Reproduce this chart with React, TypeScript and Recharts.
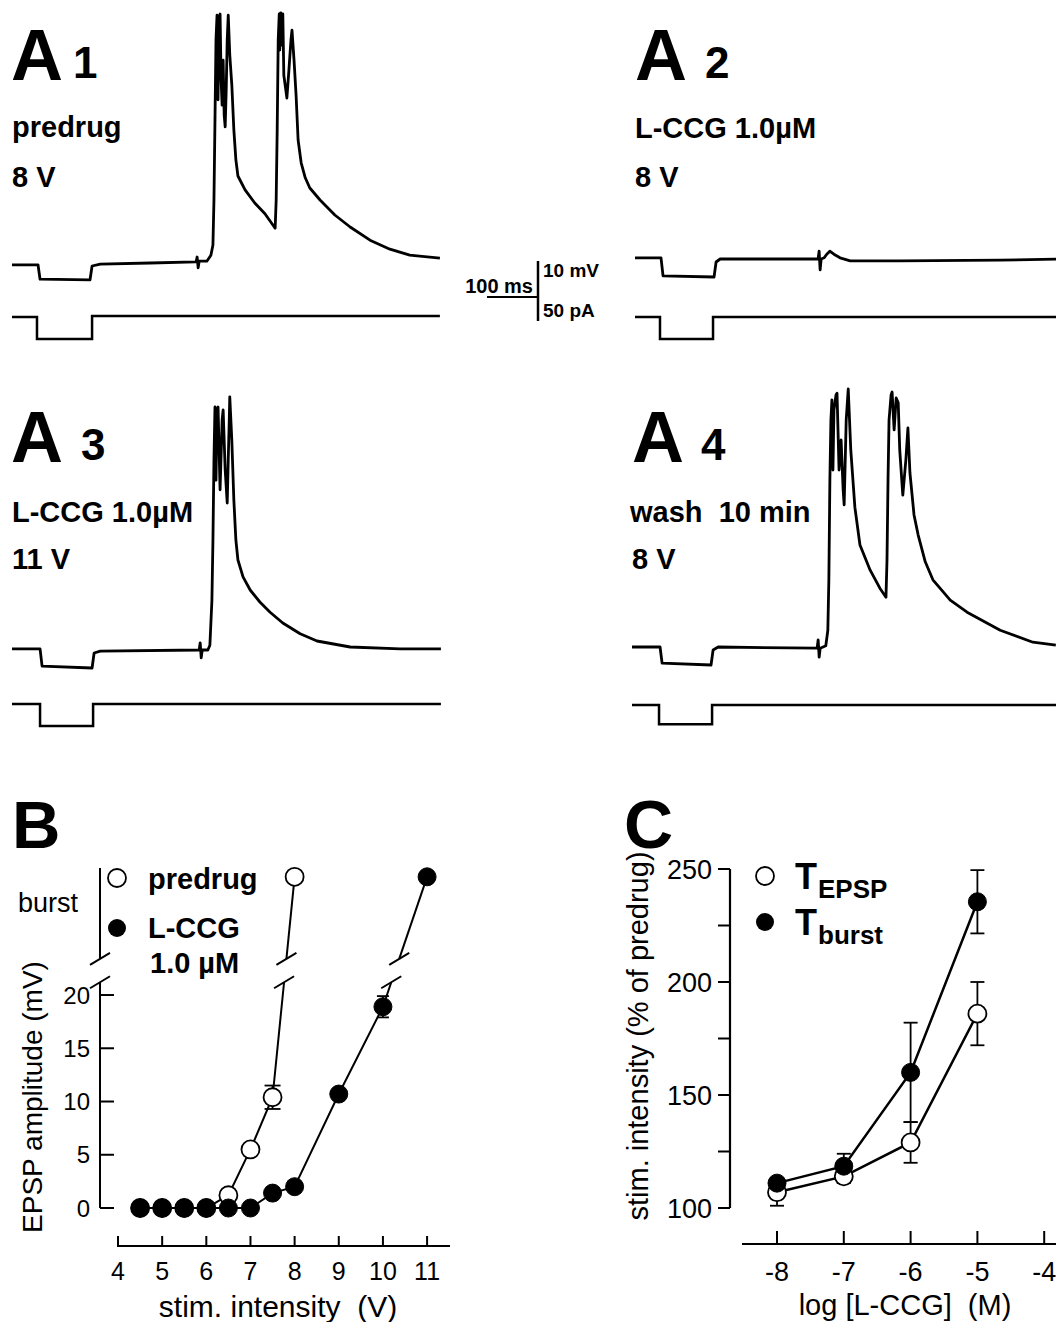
import React from 'react';
import { LineChart, Line, XAxis, YAxis, ErrorBar, ReferenceLine } from 'recharts';

const FONT = '"Liberation Sans", Arial, Helvetica, sans-serif';

// ---------- Panel A: recorded traces ----------
// [time (ms), membrane potential relative to rest (mV)]
const a1Voltage: [number, number][] = [
  [0, -0.3], [51, -0.3], [55, -2.7], [153, -2.8], [157, -0.5], [173, -0.2], [271, 0], [361, 0.2],
  [363, 1.0], [365, -0.8], [367, 0.3], [382, 0.3], [390, 1.3], [394, 3.0], [396, 10.5], [398, 23.8],
  [400, 37.2], [402, 41.3], [404, 27.2], [406, 40.8], [408, 41.5], [410, 30.5], [412, 26.3], [414, 33.8],
  [416, 24.7], [418, 22.7], [420, 28.8], [422, 37.2], [424, 41.3], [427, 34.7], [431, 29.7], [435, 22.2],
  [439, 17.2], [443, 14.5], [457, 12.2], [476, 10.0], [496, 8.2], [516, 5.8], [518, 10.5], [520, 22.2],
  [522, 37.2], [524, 41.5], [525, 35.5], [527, 41.7], [529, 36.3], [531, 41.5], [533, 31.3], [537, 28.8],
  [539, 27.5], [543, 32.2], [547, 37.2], [549, 38.8], [553, 33.8], [557, 28.0], [561, 20.5], [567, 16.7],
  [575, 14.2], [584, 12.5], [604, 10.5], [633, 8.0], [663, 6.0], [702, 3.8], [741, 2.3], [780, 1.3], [839, 0.8],
];
// [time (ms), injected current (pA)]
const a1Current: [number, number][] = [[0, 0], [49, 0], [49, -18.3], [157, -18.3], [157, 0.8], [839, 0.8]];

const a2Voltage: [number, number][] = [
  [0, 0.2], [51, 0.2], [55, -2.8], [155, -3.0], [159, -0.5], [167, 0], [359, 0], [361, 1.3], [363, -1.8],
  [365, 0], [371, 0.2], [376, 0.8], [382, 1.3], [390, 0.8], [402, 0.2], [422, -0.3], [520, -0.3], [716, -0.2], [843, 0],
];
const a2Current: [number, number][] = [[0, 0], [49, 0], [49, -18.3], [153, -18.3], [153, 0], [843, 0]];

const a3Voltage: [number, number][] = [
  [0, 0.2], [55, 0.2], [59, -2.7], [157, -3.0], [161, -0.5], [173, -0.2], [367, 0], [369, 1.2], [371, -1.3],
  [373, 0], [384, 0], [388, 0.8], [392, 8.3], [394, 18.3], [396, 31.7], [398, 40.5], [400, 28.3], [402, 40.0],
  [404, 40.5], [408, 26.7], [412, 38.3], [414, 40.0], [418, 30.0], [422, 24.5], [424, 31.7], [426, 38.3],
  [427, 42.2], [431, 35.0], [435, 25.0], [439, 18.3], [443, 15.0], [453, 12.2], [467, 10.0], [486, 8.0],
  [506, 6.3], [531, 4.5], [565, 2.7], [598, 1.5], [663, 0.5], [761, 0.2], [841, 0.2],
];
const a3Current: [number, number][] = [[0, 0], [55, 0], [55, -18.3], [159, -18.3], [159, 0], [841, 0]];

const a4Voltage: [number, number][] = [
  [0, 0], [55, 0], [59, -2.7], [155, -3.0], [159, -0.5], [169, 0], [363, -0.2], [365, 1.2], [367, -1.7],
  [369, -0.2], [380, 0.2], [384, 2.8], [386, 11.2], [388, 27.8], [390, 37.8], [392, 41.2], [394, 29.5],
  [396, 39.5], [400, 42.0], [402, 42.3], [406, 29.5], [410, 34.5], [414, 26.2], [416, 23.7], [420, 37.8],
  [424, 43.0], [429, 32.8], [437, 23.3], [447, 17.0], [467, 12.8], [486, 9.8], [498, 8.3], [500, 14.5],
  [502, 27.8], [504, 37.8], [508, 42.0], [510, 42.5], [514, 36.2], [518, 41.5], [522, 40.7], [525, 32.8],
  [531, 25.3], [537, 31.2], [541, 36.5], [545, 29.0], [553, 22.0], [561, 18.7], [575, 14.2], [590, 11.2],
  [624, 7.8], [657, 5.8], [722, 2.8], [786, 0.8], [831, 0.3],
];
const a4Current: [number, number][] = [[0, 0], [53, 0], [53, -16], [157, -16], [157, 0], [843, 0]];

// ---------- Panel B: EPSP amplitude vs stimulus intensity ----------
const predrugStim = [4.5, 5, 5.5, 6, 6.5, 7, 7.5, 8];
const predrugAmp: (number | 'burst')[] = [0, 0, 0, 0, 1.2, 5.5, 10.4, 'burst'];
const predrugErr: (number | null)[] = [null, null, null, null, null, null, 1.1, null];
const lccgStim = [4.5, 5, 5.5, 6, 6.5, 7, 7.5, 8, 9, 10, 11];
const lccgAmp: (number | 'burst')[] = [0, 0, 0, 0, 0, 0, 1.4, 2.0, 10.7, 18.9, 'burst'];
const lccgErr: (number | null)[] = [null, null, null, null, null, null, null, null, null, 1.0, null];
const bYTicks = [0, 5, 10, 15, 20];
const bXTicks = [4, 5, 6, 7, 8, 9, 10, 11];

// ---------- Panel C: threshold vs log concentration ----------
const logConc = [-8, -7, -6, -5];
const tEpsp = [107, 114, 129, 186];
const tEpspErr = [6, 3, 9, 14];
const tBurst = [111, 118.5, 160, 235.5];
const tBurstErr = [2, 5.5, 22, 14];
const cYTicks = [100, 125, 150, 175, 200, 225, 250];
const cXTicks = [-8, -7, -6, -5, -4];

// ---------- layout constants ----------
const PX_PER_MS = 0.51;
const PX_PER_MV = 6;
const PX_PER_PA = 1.2;

const BURST_LEVEL = 31.1; // axis position of the "burst" row in panel B
const BREAK_LOW = 21.2;
const BREAK_HIGH = 23.4;
const B_X = [3.592, 11.519];
const B_Y = [-3.568, 32.68];
const B_PLOT_W = 350;
const B_PLOT_H = 386;
const C_X = [-8.7036, -3.8234];
const C_Y = [84.07, 253.98];

function TracePanel(props: {
  left: number; top: number; width: number; height: number; vZero: number; iZero: number;
  voltage: [number, number][]; current: [number, number][];
}) {
  const { left, top, width, height, vZero, iZero, voltage, current } = props;
  const tMax = width / PX_PER_MS;
  const vDomain = [-(height - vZero) / PX_PER_MV, vZero / PX_PER_MV];
  const iDomain = [-(height - iZero) / PX_PER_PA, iZero / PX_PER_PA];
  const vData = voltage.map(([t, v]) => ({ t, v }));
  const iData = current.map(([t, i]) => ({ t, i }));
  return (
    <div style={{ position: 'absolute', left, top, width, height }}>
      <LineChart width={width} height={height} margin={{ top: 0, right: 0, bottom: 0, left: 0 }}>
        <XAxis type="number" dataKey="t" domain={[0, tMax]} hide allowDataOverflow />
        <YAxis yAxisId="v" type="number" domain={vDomain} hide allowDataOverflow />
        <YAxis yAxisId="i" type="number" domain={iDomain} hide allowDataOverflow />
        <Line yAxisId="v" data={vData} dataKey="v" type="linear" stroke="#000" strokeWidth={2.8}
          dot={false} isAnimationActive={false} strokeLinejoin="round" />
        <Line yAxisId="i" data={iData} dataKey="i" type="linear" stroke="#000" strokeWidth={2.5}
          dot={false} isAnimationActive={false} />
      </LineChart>
    </div>
  );
}

function toLevel(v: number | 'burst') {
  return v === 'burst' ? BURST_LEVEL : v;
}

function splitSeries(xs: number[], ys: (number | 'burst')[], errs: (number | null)[]) {
  const vals = ys.map(toLevel);
  const n = xs.length;
  const x0 = xs[n - 2], y0 = vals[n - 2], x1 = xs[n - 1], y1 = vals[n - 1];
  const xAt = (y: number) => x0 + ((y - y0) * (x1 - x0)) / (y1 - y0);
  const all = xs.map((x, i) => ({ x, y: vals[i], err: errs[i] }));
  const low = xs.slice(0, n - 1).map((x, i) => ({ x, y: vals[i] })).concat([{ x: xAt(BREAK_LOW), y: BREAK_LOW }]);
  const high = [{ x: xAt(BREAK_HIGH), y: BREAK_HIGH }, { x: x1, y: y1 }];
  return { all, low, high, bLow: { x: xAt(BREAK_LOW), y: BREAK_LOW }, bHigh: { x: xAt(BREAK_HIGH), y: BREAK_HIGH } };
}

function slash(cx: number, cy: number) {
  const pxX = B_PLOT_W / (B_X[1] - B_X[0]);
  const pxY = B_PLOT_H / (B_Y[1] - B_Y[0]);
  return [
    { x: cx - 10 / pxX, y: cy - 6 / pxY },
    { x: cx + 10 / pxX, y: cy + 6 / pxY },
  ];
}

function PanelB() {
  const pre = splitSeries(predrugStim, predrugAmp, predrugErr);
  const lccg = splitSeries(lccgStim, lccgAmp, lccgErr);
  const xAxisStart = B_X[0] + 17 / (B_PLOT_W / (B_X[1] - B_X[0]));
  const tickStyle = { fill: '#000', fontSize: 25, fontFamily: FONT };
  const lineProps = { type: 'linear' as const, stroke: '#000', strokeWidth: 2, isAnimationActive: false };
  const segs = [
    [{ x: B_X[0], y: 0 }, { x: B_X[0], y: BREAK_LOW }],
    [{ x: B_X[0], y: BREAK_HIGH }, { x: B_X[0], y: 31.93 }],
    [{ x: xAxisStart, y: B_Y[0] }, { x: B_X[1], y: B_Y[0] }],
    slash(B_X[0], BREAK_LOW), slash(B_X[0], BREAK_HIGH),
    slash(pre.bLow.x, pre.bLow.y), slash(pre.bHigh.x, pre.bHigh.y),
    slash(lccg.bLow.x, lccg.bLow.y), slash(lccg.bHigh.x, lccg.bHigh.y),
  ];
  return (
    <div style={{ position: 'absolute', left: 0, top: 780 }}>
      <LineChart width={460} height={526} margin={{ top: 80, right: 10, bottom: 0, left: 0 }}>
        <XAxis type="number" dataKey="x" domain={B_X} allowDataOverflow ticks={bXTicks} interval={0}
          axisLine={false} tickSize={-10} tickMargin={26} height={60}
          tickLine={{ stroke: '#000', strokeWidth: 2 }} tick={tickStyle} />
        <YAxis type="number" domain={B_Y} allowDataOverflow ticks={bYTicks} interval={0} width={100}
          axisLine={false} tickSize={-14} tickMargin={24}
          tickLine={{ stroke: '#000', strokeWidth: 2 }} tick={{ ...tickStyle, fontSize: 24 }} />
        {segs.map((s, k) => (
          <ReferenceLine key={k} segment={s} stroke="#000" strokeWidth={2} ifOverflow="visible" />
        ))}
        <Line data={pre.low} dataKey="y" {...lineProps} dot={false} />
        <Line data={pre.high} dataKey="y" {...lineProps} dot={false} />
        <Line data={pre.all} dataKey="y" {...lineProps} stroke="none"
          dot={{ r: 9, fill: '#fff', stroke: '#000', strokeWidth: 1.8 }}>
          <ErrorBar dataKey="err" width={8} stroke="#000" strokeWidth={1.8} direction="y" />
        </Line>
        <Line data={lccg.low} dataKey="y" {...lineProps} dot={false} />
        <Line data={lccg.high} dataKey="y" {...lineProps} dot={false} />
        <Line data={lccg.all} dataKey="y" {...lineProps} stroke="none"
          dot={{ r: 9, fill: '#000', stroke: '#000', strokeWidth: 1 }}>
          <ErrorBar dataKey="err" width={6} stroke="#000" strokeWidth={1.8} direction="y" />
        </Line>
      </LineChart>
    </div>
  );
}

function PanelC() {
  const epsp = logConc.map((x, i) => ({ x, y: tEpsp[i], err: tEpspErr[i] }));
  const burst = logConc.map((x, i) => ({ x, y: tBurst[i], err: tBurstErr[i] }));
  const xAxisStart = C_X[0] + 12 / (326 / (C_X[1] - C_X[0]));
  const tickStyle = { fill: '#000', fontSize: 27, fontFamily: FONT };
  return (
    <div style={{ position: 'absolute', left: 590, top: 780 }}>
      <LineChart width={466} height={524} margin={{ top: 80, right: 0, bottom: 0, left: 0 }}>
        <XAxis type="number" dataKey="x" domain={C_X} allowDataOverflow ticks={cXTicks} interval={0}
          axisLine={false} tickSize={-13} tickMargin={31} height={60}
          tickLine={{ stroke: '#000', strokeWidth: 2 }} tick={tickStyle} />
        <YAxis type="number" domain={C_Y} allowDataOverflow ticks={cYTicks} interval={0} width={140}
          axisLine={false} tickSize={12} tickMargin={6}
          tickFormatter={(v: number) => (v % 50 === 0 ? String(v) : '')}
          tickLine={{ stroke: '#000', strokeWidth: 2 }} tick={tickStyle} />
        <ReferenceLine segment={[{ x: C_X[0], y: 100 }, { x: C_X[0], y: 250 }]} stroke="#000" strokeWidth={2.2} ifOverflow="visible" />
        <ReferenceLine segment={[{ x: xAxisStart, y: C_Y[0] }, { x: C_X[1], y: C_Y[0] }]} stroke="#000" strokeWidth={2.2} ifOverflow="visible" />
        <Line data={epsp} dataKey="y" type="linear" stroke="#000" strokeWidth={2.5} isAnimationActive={false}
          dot={{ r: 9, fill: '#fff', stroke: '#000', strokeWidth: 1.8 }}>
          <ErrorBar dataKey="err" width={7} stroke="#000" strokeWidth={1.8} direction="y" />
        </Line>
        <Line data={burst} dataKey="y" type="linear" stroke="#000" strokeWidth={2.5} isAnimationActive={false}
          dot={{ r: 9, fill: '#000', stroke: '#000', strokeWidth: 1 }}>
          <ErrorBar dataKey="err" width={7} stroke="#000" strokeWidth={1.8} direction="y" />
        </Line>
      </LineChart>
    </div>
  );
}

function Labels() {
  const bold = { fontWeight: 'bold' as const };
  const barX = 538, barBottom = 321, barY = 297;
  return (
    <svg width={1056} height={1322} style={{ position: 'absolute', left: 0, top: 0 }} fontFamily={FONT} fill="#000">
      {/* A1 */}
      <text x={11} y={80} fontSize={72} {...bold}>A</text>
      <text x={73} y={78} fontSize={44} {...bold}>1</text>
      <text x={12} y={137} fontSize={29} {...bold}>predrug</text>
      <text x={12} y={187} fontSize={29} {...bold}>8 V</text>
      {/* A2 */}
      <text x={635} y={80} fontSize={72} {...bold}>A</text>
      <text x={705} y={78} fontSize={44} {...bold}>2</text>
      <text x={635} y={138} fontSize={29} {...bold}>L-CCG 1.0µM</text>
      <text x={635} y={187} fontSize={29} {...bold}>8 V</text>
      {/* A3 */}
      <text x={11} y={462} fontSize={72} {...bold}>A</text>
      <text x={81} y={460} fontSize={44} {...bold}>3</text>
      <text x={12} y={522} fontSize={29} {...bold}>L-CCG 1.0µM</text>
      <text x={12} y={569} fontSize={29} {...bold}>11 V</text>
      {/* A4 */}
      <text x={632} y={462} fontSize={72} {...bold}>A</text>
      <text x={701} y={460} fontSize={44} {...bold}>4</text>
      <text x={630} y={522} fontSize={29} {...bold} style={{ whiteSpace: 'pre' }}>wash  10 min</text>
      <text x={632} y={569} fontSize={29} {...bold}>8 V</text>
      {/* scale bar */}
      <line x1={barX - 100 * PX_PER_MS} y1={barY} x2={barX} y2={barY} stroke="#000" strokeWidth={2} />
      <line x1={barX} y1={barBottom - 10 * PX_PER_MV} x2={barX} y2={barBottom} stroke="#000" strokeWidth={2.5} />
      <text x={533} y={293} fontSize={20} textAnchor="end" {...bold}>100 ms</text>
      <text x={543} y={277} fontSize={19} {...bold}>10 mV</text>
      <text x={543} y={317} fontSize={19} {...bold}>50 pA</text>

      {/* B */}
      <text x={12} y={848} fontSize={67} {...bold}>B</text>
      <text x={18} y={912} fontSize={27}>burst</text>
      <circle cx={117} cy={878} r={9} fill="#fff" stroke="#000" strokeWidth={1.8} />
      <text x={148} y={889} fontSize={29} {...bold}>predrug</text>
      <circle cx={117} cy={928} r={9} fill="#000" />
      <text x={148} y={938} fontSize={29} {...bold}>L-CCG</text>
      <text x={150} y={973} fontSize={29} {...bold}>1.0 µM</text>
      <text transform="translate(42,1097) rotate(-90)" textAnchor="middle" fontSize={28}>EPSP amplitude (mV)</text>
      <text x={278} y={1317} textAnchor="middle" fontSize={30} style={{ whiteSpace: 'pre' }}>stim. intensity  (V)</text>

      {/* C */}
      <text x={624} y={848} fontSize={68} {...bold}>C</text>
      <circle cx={765} cy={876} r={9} fill="#fff" stroke="#000" strokeWidth={1.8} />
      <text x={795} y={889} fontSize={36} {...bold}>T</text>
      <text x={818} y={898} fontSize={26} {...bold}>EPSP</text>
      <circle cx={765} cy={922} r={9} fill="#000" />
      <text x={795} y={935} fontSize={36} {...bold}>T</text>
      <text x={818} y={944} fontSize={26} {...bold}>burst</text>
      <text transform="translate(648,1036) rotate(-90)" textAnchor="middle" fontSize={29}>stim. intensity (% of predrug)</text>
      <text x={905} y={1315} textAnchor="middle" fontSize={29} style={{ whiteSpace: 'pre' }}>log [L-CCG]  (M)</text>
    </svg>
  );
}

export default function App() {
  return (
    <div style={{ position: 'absolute', left: 0, top: 0, width: 1056, height: 1322, overflow: 'hidden', background: '#fff', fontFamily: FONT }}>
      <TracePanel left={12} top={0} width={430} height={350} vZero={263} iZero={317} voltage={a1Voltage} current={a1Current} />
      <TracePanel left={635} top={0} width={421} height={350} vZero={259} iZero={317} voltage={a2Voltage} current={a2Current} />
      <TracePanel left={12} top={380} width={432} height={350} vZero={270} iZero={324} voltage={a3Voltage} current={a3Current} />
      <TracePanel left={632} top={380} width={424} height={350} vZero={267} iZero={325} voltage={a4Voltage} current={a4Current} />
      <PanelB />
      <PanelC />
      <Labels />
    </div>
  );
}
